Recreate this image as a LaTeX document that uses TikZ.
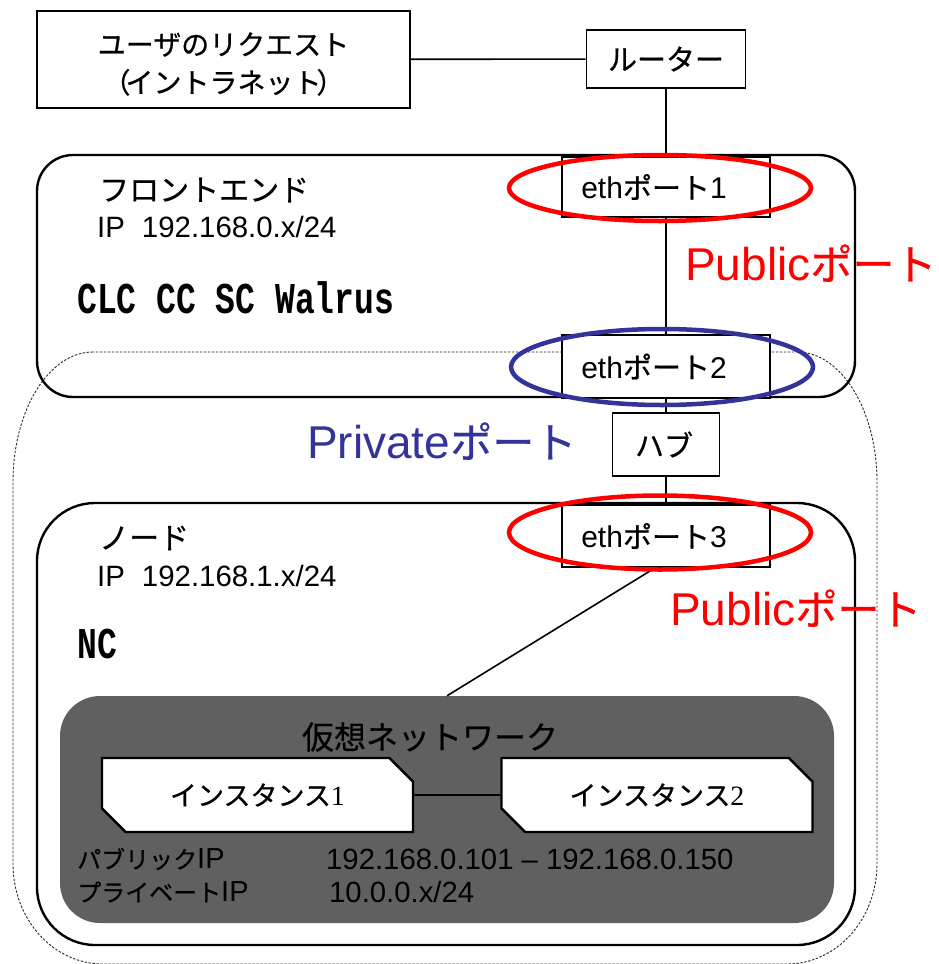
\documentclass[tikz,border=0pt]{standalone}
\usepackage{fontspec}
\usepackage{graphicx}
\setmainfont{Liberation Sans}
\newfontfamily\jp[FakeBold=0.6]{Noto Sans CJK JP}
\newfontfamily\monob{Liberation Mono}
\newfontfamily\serifdigit{Liberation Serif}
\usetikzlibrary{shapes.misc}

\definecolor{portred}{RGB}{255,0,0}
\definecolor{portblue}{RGB}{51,51,153}
\definecolor{vnetgray}{RGB}{96,96,96}
\definecolor{dotgray}{RGB}{40,40,40}

% font size helpers (1pt = 1px here)
\newcommand\fsz[1]{\fontsize{#1}{#1}\selectfont}
\newcommand\J[2]{{\jp\fsz{#1}#2}}
\newcommand\cond[2]{\scalebox{0.75}[1]{\monob\bfseries\fsz{#1}#2}}

\begin{document}
\begin{tikzpicture}[x=1pt,y=-1pt,
  sqbox/.style={draw, line width=1.8pt, fill=white, inner sep=0pt},
  group/.style={draw, line width=2.4pt, inner sep=0pt},
  wire/.style={line width=1.6pt},
  ring/.style={line width=4.5pt},
  inst/.style={draw, line width=2.4pt, fill=white, inner sep=0pt,
    chamfered rectangle, chamfered rectangle corners={north east,south west},
    chamfered rectangle xsep=12pt, chamfered rectangle ysep=12pt,
    minimum width=311pt, minimum height=74pt},
  lbl/.style={inner sep=0pt, anchor=west},
  portlbl/.style={inner sep=0pt, anchor=base west, font=\fsz{46}},
  ethtext/.style={font=\fsz{30}},
]
\useasboundingbox (0,0) rectangle (938,964);

% dotted enclosure of the private network
\draw[dotgray, line width=0.9pt, dash pattern=on 2.4pt off 1.6pt]
  (93,352) arc[start angle=90, end angle=180, x radius=80pt, y radius=130pt]
  -- (13,864) arc[start angle=180, end angle=270, x radius=90pt, y radius=100pt]
  -- (787,964) arc[start angle=270, end angle=360, x radius=90pt, y radius=100pt]
  -- (877,482) arc[start angle=0, end angle=90, x radius=80pt, y radius=130pt]
  -- cycle;

% request source and router
\node[sqbox, minimum width=373pt, minimum height=97pt] (user) at (223.5,59.5) {};
\node[inner sep=0pt, align=center, font=\jp\fontsize{28}{38}\selectfont]
  (usertext) at (223.5,64) {ユーザのリクエスト\\（\kern-5pt イントラネット\kern-5pt ）};
\node[sqbox, minimum width=159pt, minimum height=58pt] (router) at (666,59)
  {\J{29}{ルーター}};

% front end and node groups
\node[group, rounded corners=36pt, minimum width=818pt, minimum height=242pt]
  (frontend) at (446,276) {};
\node[group, rounded corners=58pt, fill=white, minimum width=818pt, minimum height=442pt]
  (nodegrp) at (446,724) {};

% virtual network
\node[fill=vnetgray, rounded corners=40pt, inner sep=0pt,
      minimum width=774pt, minimum height=227pt] (vnet) at (447,809.5) {};
\node[inst] (inst1) at (257.5,795) {\J{27}{インスタンス}{\serifdigit\fsz{28}1}};
\node[inst] (inst2) at (657,795) {\J{27}{インスタンス}{\serifdigit\fsz{28}2}};

% connectors
\draw[wire] (user) -- (router);
\draw[wire] (inst1) -- (inst2);

% ports and hub
\node[sqbox, ethtext, minimum width=208pt, minimum height=60pt] (eth1) at (666,187)
  {eth\J{29}{ポート}1\kern24pt};
\node[sqbox, ethtext, minimum width=208pt, minimum height=63pt] (eth2) at (666,366.5)
  {eth\J{29}{ポート}2\kern24pt};
\node[sqbox, minimum width=107pt, minimum height=63pt] (hub) at (666,444.5)
  {\J{29}{ハブ}\kern4pt};
\node[sqbox, ethtext, minimum width=208pt, minimum height=62pt] (eth3) at (666,536)
  {eth\J{29}{ポート}3\kern24pt};

\draw[wire] (router) -- (eth1);
\draw[wire] (eth1) -- (eth2);
\draw[wire] (eth2) -- (hub);
\draw[wire] (hub) -- (eth3);
\draw[wire] ([xshift=-11pt]eth3.south) -- (vnet.north);

% port highlights
\draw[ring, portred] (660,188) ellipse [x radius=151pt, y radius=33pt];
\draw[ring, portblue] (662,367) ellipse [x radius=151pt, y radius=38pt];
\draw[ring, portred] (660,532.5) ellipse [x radius=151pt, y radius=37pt];

\node[portlbl, text=portred] (pub1) at (685,280) {Public\J{42}{ポート}};
\node[portlbl, text=portblue] (priv) at (307,458) {Private\J{42}{ポート}};
\node[portlbl, text=portred] (pub2) at (670,625) {Public\J{42}{ポート}};

% front end labels
\node[lbl] (fetitle) at (99,190) {\J{30}{フロントエンド}};
\node[lbl, font=\fsz{29.4}] (feip) at (97,227) {IP\hspace{17pt}192.168.0.x/24};
\node[lbl] (fesvc) at (77,298) {\cond{44}{CLC CC SC Walrus}};

% node labels
\node[lbl] (ndtitle) at (99,538) {\J{30}{ノード}};
\node[lbl, font=\fsz{29.4}] (ndip) at (97,576) {IP\hspace{17pt}192.168.1.x/24};
\node[lbl] (ndsvc) at (77,644) {\cond{44}{NC}};

% virtual network labels
\node[inner sep=0pt] (vntitle) at (430,737) {\J{32}{仮想ネットワーク}};
\node[lbl] (pubiplbl) at (77,859) {\J{24}{パブリック}{\fsz{29}IP}};
\node[lbl, font=\fsz{29.3}] (pubip) at (326,859) {192.168.0.101 – 192.168.0.150};
\node[lbl] (priviplbl) at (77,892) {\J{24}{プライベート}{\fsz{29}IP}};
\node[lbl, font=\fsz{29.3}] (privip) at (329,892) {10.0.0.x/24};
\end{tikzpicture}
\end{document}
